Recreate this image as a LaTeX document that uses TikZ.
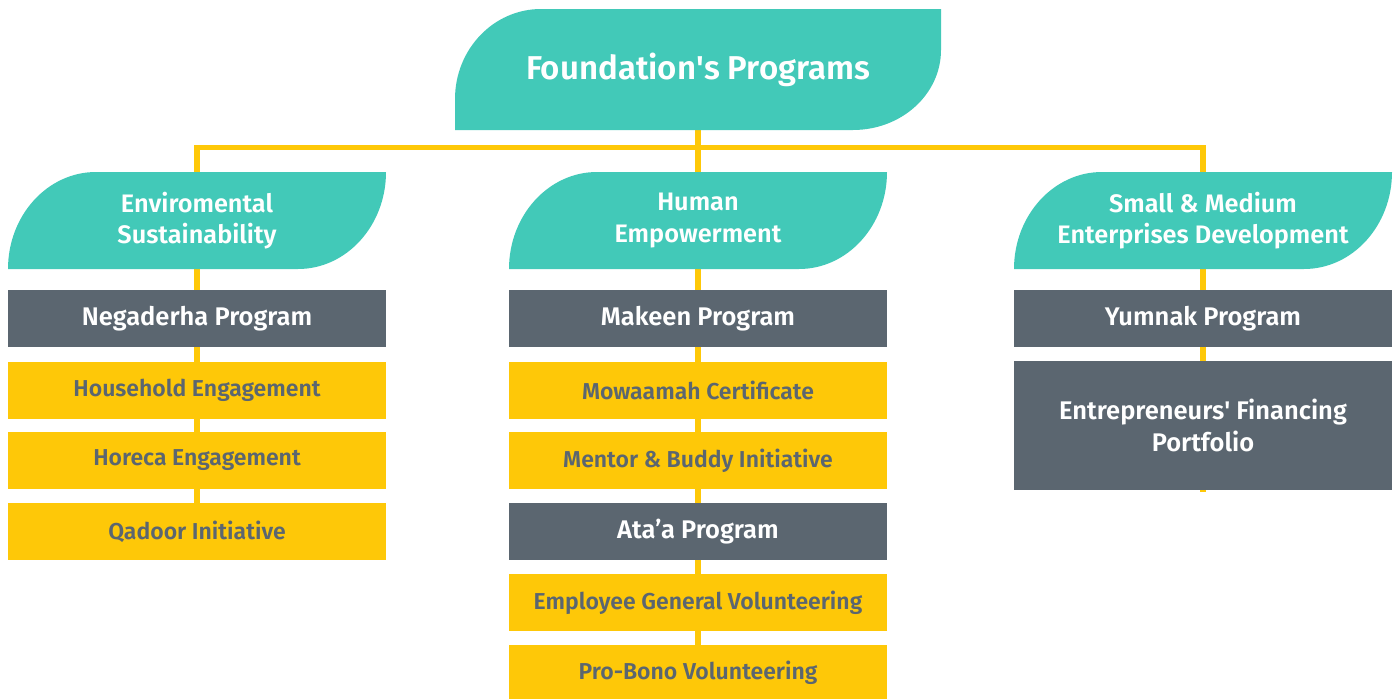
\documentclass[tikz,border=0pt]{standalone}
\usepackage{fontspec}
\setmainfont{Fira Sans}[BoldFont={Fira Sans SemiBold}]
\usetikzlibrary{backgrounds}
\definecolor{teal}{HTML}{42C9B8}
\definecolor{slate}{HTML}{5B6670}
\definecolor{gold}{HTML}{FEC808}
\tikzset{
  line/.style={draw=gold, line width=5.5pt},
  grayb/.style={fill=slate, text=white, minimum width=378pt, minimum height=57pt, inner sep=0pt, font=\bfseries\fontsize{25.5}{32}\selectfont, align=center},
  goldb/.style={fill=gold, text=slate, minimum width=378pt, minimum height=57pt, inner sep=0pt, font=\bfseries\fontsize{23}{28}\selectfont, align=center},
  cat/.style={text=white, minimum width=378pt, minimum height=97pt, inner sep=0pt, font=\bfseries\fontsize{25.3}{31.5}\selectfont, align=center},
}
% leaf shape: L,T,R,B, rx1, ry1, rx2, ry2
\newcommand{\leafshape}[8]{%
  \fill[teal] (#1,#4) -- (#1,#2+#6) .. controls (#1,#2+0.4477*#6) and (#1+0.4477*#5,#2) .. (#1+#5,#2)
   -- (#3,#2) -- (#3,#4-#8) .. controls (#3,#4-0.4477*#8) and (#3-0.4477*#7,#4) .. (#3-#7,#4) -- cycle;}
\begin{document}
\begin{tikzpicture}[x=1pt,y=-1pt]
\useasboundingbox (0,0) rectangle (1398,699);
% top
\leafshape{455}{9}{941}{130}{86}{90}{88}{80}
\node[text=white, font=\bfseries\fontsize{33}{40}\selectfont, inner sep=0pt, minimum width=486pt, minimum height=121pt] (top) at (698,69.5) {Foundation\textquotesingle s Programs};
% categories
\leafshape{8}{172}{386}{269}{88}{97}{88}{97}
\leafshape{509}{172}{887}{269}{88}{97}{88}{97}
\leafshape{1014}{172}{1392}{269}{88}{97}{88}{97}
\node[cat] (env) at (197,220.5) {Enviromental\\Sustainability};
\node[cat] (hum) at (698,220.5) {Human\\Empowerment};
\node[cat] (sme) at (1203,220.5) {Small \& Medium\\Enterprises Development};
% left column
\node[grayb] (neg) at (197,318.5) {Negaderha Program};
\node[goldb] (hh) at (197,390) {Household Engagement};
\node[goldb] (hor) at (197,460.5) {Horeca Engagement};
\node[goldb] (qad) at (197,531.5) {Qadoor Initiative};
% middle column
\node[grayb] (mak) at (698,318.5) {Makeen Program};
\node[goldb] (mow) at (698,390) {Mowaamah Certificate};
\node[goldb] (men) at (698,460.5) {Mentor \& Buddy Initiative};
\node[grayb] (ata) at (698,531.5) {Ata’a Program};
\node[goldb] (emp) at (698,602.5) {Employee General Volunteering};
\node[goldb, minimum height=56pt] (pro) at (698,673) {Pro-Bono Volunteering};
% right column
\node[grayb] (yum) at (1203,318.5) {Yumnak Program};
\node[grayb, minimum height=129pt] (ent) at (1203,425.5) {Entrepreneurs\textquotesingle\ Financing\\Portfolio};
\coordinate (hl) at (197,147.5);
\coordinate (endr) at (1203,492);
\begin{scope}[on background layer]
\draw[line] (env.center) -- (env.center |- hl) -- (sme.center |- hl) -- (sme.center);
\draw[line] (top.center) -- (hum.center);
\draw[line] (env.center) -- (qad.center);
\draw[line] (hum.center) -- (pro.center);
\draw[line] (sme.center) -- (endr);
\end{scope}
\end{tikzpicture}
\end{document}
